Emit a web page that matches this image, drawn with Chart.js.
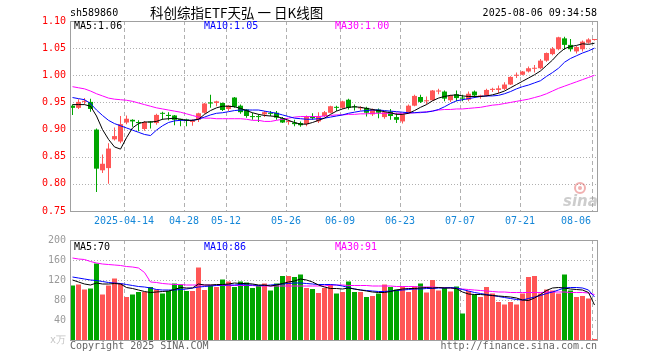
<!DOCTYPE html>
<html><head><meta charset="utf-8">
<script src="https://cdn.jsdelivr.net/npm/chart.js@4.4.1/dist/chart.umd.min.js"></script>
<style>
html,body{margin:0;padding:0;background:#fff;}
#wrap{position:relative;width:660px;height:360px;overflow:hidden;background:#fff;}
canvas{position:absolute;left:0;}
#c1{top:0;} #c2{top:230px;}
</style></head><body>
<div id="wrap"><canvas id="c1" width="660" height="230"></canvas><canvas id="c2" width="660" height="130"></canvas></div>
<script>
const dates = ['03-31','04-01','04-02','04-03','04-07','04-08','04-09','04-10','04-11','04-14','04-15','04-16','04-17','04-18','04-21','04-22','04-23','04-24','04-25','04-28','04-29','04-30','05-06','05-07','05-08','05-09','05-12','05-13','05-14','05-15','05-16','05-19','05-20','05-21','05-22','05-23','05-26','05-27','05-28','05-29','05-30','06-03','06-04','06-05','06-06','06-09','06-10','06-11','06-12','06-13','06-16','06-17','06-18','06-19','06-20','06-23','06-24','06-25','06-26','06-27','06-30','07-01','07-02','07-03','07-04','07-07','07-08','07-09','07-10','07-11','07-14','07-15','07-16','07-17','07-18','07-21','07-22','07-23','07-24','07-25','07-28','07-29','07-30','07-31','08-01','08-04','08-05','08-06'];
const opens  = [0.944,0.940,0.951,0.951,0.900,0.825,0.829,0.882,0.878,0.913,0.918,0.914,0.901,0.914,0.912,0.930,0.927,0.926,0.919,0.918,0.914,0.918,0.931,0.950,0.949,0.949,0.938,0.959,0.944,0.937,0.924,0.924,0.928,0.930,0.931,0.921,0.914,0.913,0.912,0.910,0.924,0.915,0.925,0.931,0.941,0.940,0.955,0.942,0.939,0.940,0.928,0.937,0.923,0.933,0.923,0.915,0.931,0.944,0.960,0.952,0.954,0.970,0.970,0.954,0.965,0.959,0.955,0.970,0.961,0.963,0.973,0.973,0.975,0.983,0.999,1.001,1.007,1.012,1.013,1.027,1.039,1.048,1.068,1.056,1.044,1.048,1.060,1.065];
const highs  = [0.946,0.956,0.958,0.957,0.902,0.854,0.875,0.904,0.925,0.926,0.919,0.917,0.916,0.916,0.929,0.933,0.932,0.927,0.920,0.920,0.919,0.931,0.949,0.964,0.953,0.950,0.945,0.960,0.946,0.938,0.931,0.928,0.934,0.934,0.934,0.923,0.918,0.918,0.915,0.926,0.930,0.932,0.934,0.944,0.944,0.953,0.957,0.946,0.943,0.942,0.939,0.939,0.934,0.938,0.931,0.929,0.946,0.964,0.964,0.961,0.973,0.975,0.972,0.964,0.972,0.964,0.970,0.972,0.964,0.975,0.977,0.981,0.987,0.998,1.005,1.008,1.016,1.019,1.030,1.042,1.052,1.071,1.071,1.067,1.054,1.064,1.068,1.067];
const lows   = [0.927,0.938,0.946,0.933,0.785,0.820,0.800,0.880,0.875,0.910,0.905,0.897,0.898,0.902,0.909,0.918,0.917,0.908,0.906,0.906,0.907,0.914,0.929,0.940,0.943,0.934,0.934,0.940,0.929,0.922,0.918,0.914,0.923,0.925,0.918,0.912,0.909,0.906,0.905,0.906,0.918,0.912,0.923,0.930,0.934,0.938,0.937,0.935,0.935,0.924,0.925,0.921,0.920,0.918,0.912,0.911,0.929,0.943,0.949,0.946,0.953,0.965,0.952,0.951,0.952,0.952,0.952,0.958,0.957,0.961,0.969,0.967,0.973,0.982,0.995,1.000,1.005,1.005,1.011,1.025,1.037,1.046,1.047,1.044,1.040,1.044,1.058,1.064];
const closes = [0.940,0.951,0.953,0.938,0.828,0.837,0.865,0.888,0.910,0.920,0.915,0.912,0.914,0.913,0.927,0.929,0.925,0.918,0.918,0.917,0.917,0.930,0.948,0.948,0.952,0.936,0.944,0.942,0.932,0.925,0.923,0.923,0.932,0.929,0.922,0.913,0.915,0.910,0.908,0.924,0.921,0.924,0.932,0.943,0.940,0.952,0.940,0.941,0.941,0.931,0.937,0.931,0.932,0.925,0.918,0.928,0.944,0.962,0.951,0.954,0.972,0.972,0.957,0.963,0.958,0.957,0.966,0.963,0.962,0.973,0.975,0.976,0.983,0.997,1.001,1.007,1.013,1.013,1.027,1.041,1.049,1.070,1.056,1.048,1.052,1.062,1.066,1.066];
const ma5  = [0.946,0.946,0.946,0.943,0.925,0.900,0.882,0.868,0.864,0.885,0.903,0.911,0.914,0.914,0.915,0.919,0.920,0.921,0.919,0.917,0.917,0.919,0.928,0.935,0.940,0.943,0.943,0.942,0.939,0.935,0.931,0.928,0.926,0.925,0.924,0.921,0.917,0.913,0.910,0.910,0.913,0.917,0.921,0.928,0.934,0.938,0.941,0.942,0.941,0.939,0.937,0.935,0.933,0.931,0.928,0.928,0.930,0.935,0.941,0.946,0.953,0.958,0.961,0.963,0.964,0.962,0.961,0.961,0.961,0.962,0.964,0.967,0.971,0.977,0.983,0.989,0.995,1.001,1.008,1.018,1.028,1.040,1.049,1.053,1.055,1.058,1.057,1.059];
const ma10 = [0.959,0.957,0.955,0.948,0.936,0.926,0.917,0.911,0.907,0.903,0.899,0.895,0.891,0.889,0.899,0.907,0.913,0.916,0.917,0.917,0.917,0.919,0.923,0.927,0.930,0.931,0.933,0.935,0.936,0.936,0.936,0.936,0.934,0.932,0.930,0.927,0.924,0.921,0.920,0.919,0.919,0.920,0.921,0.923,0.925,0.927,0.930,0.932,0.934,0.935,0.936,0.936,0.935,0.934,0.933,0.932,0.931,0.931,0.932,0.932,0.934,0.937,0.942,0.948,0.953,0.955,0.957,0.959,0.961,0.962,0.962,0.963,0.966,0.970,0.975,0.979,0.982,0.986,0.990,0.998,1.005,1.013,1.024,1.031,1.036,1.041,1.045,1.050];
const ma30 = [0.979,0.977,0.975,0.971,0.966,0.962,0.958,0.956,0.955,0.954,0.952,0.949,0.946,0.943,0.940,0.938,0.936,0.934,0.932,0.929,0.926,0.923,0.921,0.921,0.920,0.920,0.920,0.920,0.920,0.919,0.917,0.917,0.915,0.915,0.917,0.919,0.921,0.923,0.924,0.924,0.924,0.924,0.925,0.926,0.927,0.927,0.928,0.928,0.929,0.929,0.930,0.930,0.930,0.930,0.930,0.930,0.930,0.931,0.931,0.933,0.934,0.936,0.937,0.937,0.938,0.938,0.939,0.940,0.941,0.943,0.945,0.946,0.948,0.950,0.952,0.954,0.956,0.959,0.962,0.966,0.971,0.976,0.980,0.984,0.988,0.992,0.996,1.000];
const volumes = [109,111,101,103,153,91,109,123,113,86,91,96,96,106,101,93,98,113,111,98,98,145,100,109,106,121,117,106,117,115,104,108,113,99,113,128,128,126,131,104,102,94,104,111,93,96,117,96,96,86,88,93,111,106,101,107,96,107,113,95,120,99,106,97,107,53,98,91,86,106,93,76,71,76,71,93,126,128,93,101,99,93,131,99,86,88,83,2];
const volMa5  = [120,116,112,110,114,112,112,113,112,105,103,100,97,95,96,97,98,101,105,104,104,112,110,110,111,111,112,114,113,113,112,110,110,108,110,113,116,118,122,120,116,110,106,103,103,102,104,102,100,98,96,95,95,97,100,102,103,103,104,105,104,105,104,104,103,96,92,91,91,90,89,88,87,86,84,80,79,84,91,99,104,105,104,102,101,100,95,70];
const volMa10 = [126,124,122,120,119,117,115,114,113,111,109,107,106,104,101,100,100,100,101,102,104,106,107,108,109,110,110,110,111,110,110,109,109,110,111,112,113,114,114,113,112,111,111,111,110,108,105,102,100,99,98,97,97,98,99,100,101,102,102,103,103,104,104,105,104,101,98,95,93,91,89,87,85,83,81,80,83,86,89,93,96,100,104,105,105,104,100,86];
const volMa30 = [164,162,161,157,154,152,151,150,149,147,146,144,135,116,115,113,112,111,111,110,110,110,110,110,109,109,109,109,109,109,109,108,108,108,108,108,108,108,108,108,108,108,108,110,110,110,109,109,109,109,108,108,108,108,107,107,107,107,106,106,106,105,105,104,103,102,101,100,99,98,97,96,96,95,95,95,95,95,95,96,96,96,96,95,95,95,94,91];
const tickDates  = ['04-14','04-28','05-12','05-26','06-09','06-23','07-07','07-21','08-06'];
const tickLabels = ['2025-04-14','04-28','05-12','05-26','06-09','06-23','07-07','07-21','08-06'];
const priceTicks = [0.75,0.80,0.85,0.90,0.95,1.00,1.05,1.10];
const volTicks   = [0,40,80,120,160,200];

const RED='#ff5656', GREEN='#00a600', MONO='10px "DejaVu Sans Mono"', GRID='#b0b0b0';
const SHIFT = 5/12;
const up = closes.map((c,i)=>c>opens[i]);
const cols = up.map(u=>u?RED:GREEN);
const pts = arr => arr.map((v,i)=>({x:i,y:v}));
const xCommon = {
  type:'linear', min:-0.5+1/12, max:87.5+1/12, offset:false,
  afterBuildTicks:s=>{ s.ticks = tickDates.map(d=>({value:dates.indexOf(d)-SHIFT})); },
  afterFit:s=>{ s.height=0; },
  ticks:{display:false},
  grid:{display:false,offset:false},
  border:{display:false}
};
function txt(ctx,s,x,y,color,font,align){ctx.save();ctx.fillStyle=color;ctx.font=font;ctx.textAlign=align||'left';ctx.textBaseline='middle';ctx.fillText(s,x,y);ctx.restore();}
function frame(chart){const c=chart.ctx,a=chart.chartArea;c.save();c.strokeStyle='#a0a0a0';c.lineWidth=1;c.strokeRect(a.left+0.5,a.top+0.5,a.right-a.left-1,a.bottom-a.top);c.restore();}
function grids(chart,yTicks){
  const c=chart.ctx,a=chart.chartArea,xs=chart.scales.x,ys=chart.scales.y;
  c.save();c.strokeStyle=GRID;c.lineWidth=1;
  c.setLineDash([1,2]);
  yTicks.forEach(v=>{const py=Math.round(ys.getPixelForValue(v))+0.5; if(py<=a.top+1||py>=a.bottom-1)return; c.beginPath();c.moveTo(a.left,py);c.lineTo(a.right,py);c.stroke();});
  c.setLineDash([4,3]);
  tickDates.forEach(d=>{const px=Math.round(xs.getPixelForValue(dates.indexOf(d)-SHIFT))+0.5; c.beginPath();c.moveTo(px,a.top);c.lineTo(px,a.bottom);c.stroke();});
  c.restore();
}
const lineDs=(data,color,ord)=>({type:'line',data:pts(data),borderColor:color,borderWidth:1,pointRadius:0,tension:0,fill:false,order:ord});

const mainPlugin={id:'mainDeco',
 beforeDatasetsDraw(chart){
  grids(chart,priceTicks);
  const c=chart.ctx;
  c.save();c.globalAlpha=0.45;
  c.strokeStyle='#e05050';c.lineWidth=2;c.beginPath();c.arc(580,188,5,0,Math.PI*2);c.stroke();
  c.fillStyle='#e05050';c.beginPath();c.arc(580,188,2,0,Math.PI*2);c.fill();
  c.fillStyle='#909090';c.font='italic bold 15px "DejaVu Sans"';c.textBaseline='alphabetic';c.fillText('sina',563,206);
  c.restore();
 },
 afterDraw(chart){
  const c=chart.ctx,a=chart.chartArea,xs=chart.scales.x;
  frame(chart);
  txt(c,'sh589860',70,13,'#000',MONO);
  txt(c,'科创综指ETF天弘 一 日K线图',150,13,'#000','13.5px "Noto Sans CJK SC"');
  txt(c,'2025-08-06 09:34:58',597,13,'#000',MONO,'right');
  txt(c,'MA5:'+ma5[ma5.length-1].toFixed(2),74,26,'#000',MONO);
  txt(c,'MA10:'+ma10[ma10.length-1].toFixed(2),204,26,'#0000ff',MONO);
  txt(c,'MA30:'+ma30[ma30.length-1].toFixed(2),335,26,'#ff00ff',MONO);
  c.save();c.font=MONO;
  tickDates.forEach((d,k)=>{
    let px=xs.getPixelForValue(dates.indexOf(d)-SHIFT);
    const w=c.measureText(tickLabels[k]).width;
    if(px+w/2>a.right-7) px=a.right-7-w/2;
    txt(c,tickLabels[k],px,221,'#1587d8',MONO,'center');
  });
  c.restore();
}};

new Chart(document.getElementById('c1'),{
  data:{datasets:[
    lineDs(ma5,'#000000',0), lineDs(ma10,'#0000ff',1), lineDs(ma30,'#ff00ff',2),
    {type:'bar',data:opens.map((o,i)=>({x:i,y:[o,closes[i]]})),backgroundColor:cols,barThickness:5,minBarLength:1,grouped:false,inflateAmount:0,borderWidth:0,order:5},
    {type:'bar',data:lows.map((l,i)=>({x:i,y:[l,highs[i]]})),backgroundColor:cols,barThickness:1,grouped:false,inflateAmount:0,borderWidth:0,order:6}
  ]},
  options:{responsive:false,animation:false,devicePixelRatio:1,events:[],
    layout:{padding:{top:21,bottom:19,left:0,right:62}},
    plugins:{legend:{display:false},tooltip:{enabled:false}},
    scales:{
      x:xCommon,
      y:{type:'linear',min:0.75,max:1.10,
        afterBuildTicks:s=>{s.ticks=priceTicks.map(v=>({value:v}));},
        afterFit:s=>{s.width=70;},
        ticks:{color:'#ff0000',font:{family:'DejaVu Sans Mono',size:10},padding:4,callback:v=>Number(v).toFixed(2)},
        grid:{display:false,drawTicks:false},
        border:{display:false}}
    }},
  plugins:[mainPlugin]
});

const volPlugin={id:'volDeco',
 beforeDatasetsDraw(chart){grids(chart,volTicks);},
 afterDraw(chart){
  const c=chart.ctx;
  frame(chart);
  txt(c,'MA5:'+volMa5[volMa5.length-1],74,17,'#000',MONO);
  txt(c,'MA10:'+volMa10[volMa10.length-1],204,17,'#0000ff',MONO);
  txt(c,'MA30:'+volMa30[volMa30.length-1],335,17,'#ff00ff',MONO);
  txt(c,'Copyright 2025 SINA.COM',70,116,'#666',MONO);
  txt(c,'http://finance.sina.com.cn',597,116,'#666',MONO,'right');
}};

new Chart(document.getElementById('c2'),{
  data:{datasets:[
    lineDs(volMa5,'#000000',0), lineDs(volMa10,'#0000ff',1), lineDs(volMa30,'#ff00ff',2),
    {type:'bar',data:volumes.map((v,i)=>({x:i,y:v})),backgroundColor:cols,barThickness:5,grouped:false,inflateAmount:0,borderWidth:0,order:5}
  ]},
  options:{responsive:false,animation:false,devicePixelRatio:1,events:[],
    layout:{padding:{top:10,bottom:20,left:0,right:62}},
    plugins:{legend:{display:false},tooltip:{enabled:false}},
    scales:{
      x:xCommon,
      y:{type:'linear',min:0,max:200,
        afterBuildTicks:s=>{s.ticks=volTicks.map(v=>({value:v}));},
        afterFit:s=>{s.width=70;},
        ticks:{color:c=>c.tick&&c.tick.value===0?'#c4c4c4':'#9a9a9a',font:{family:'DejaVu Sans Mono',size:10},padding:4,callback:v=>v===0?'x万':String(v)},
        grid:{display:false,drawTicks:false},
        border:{display:false}}
    }},
  plugins:[volPlugin]
});
</script>
</body></html>
